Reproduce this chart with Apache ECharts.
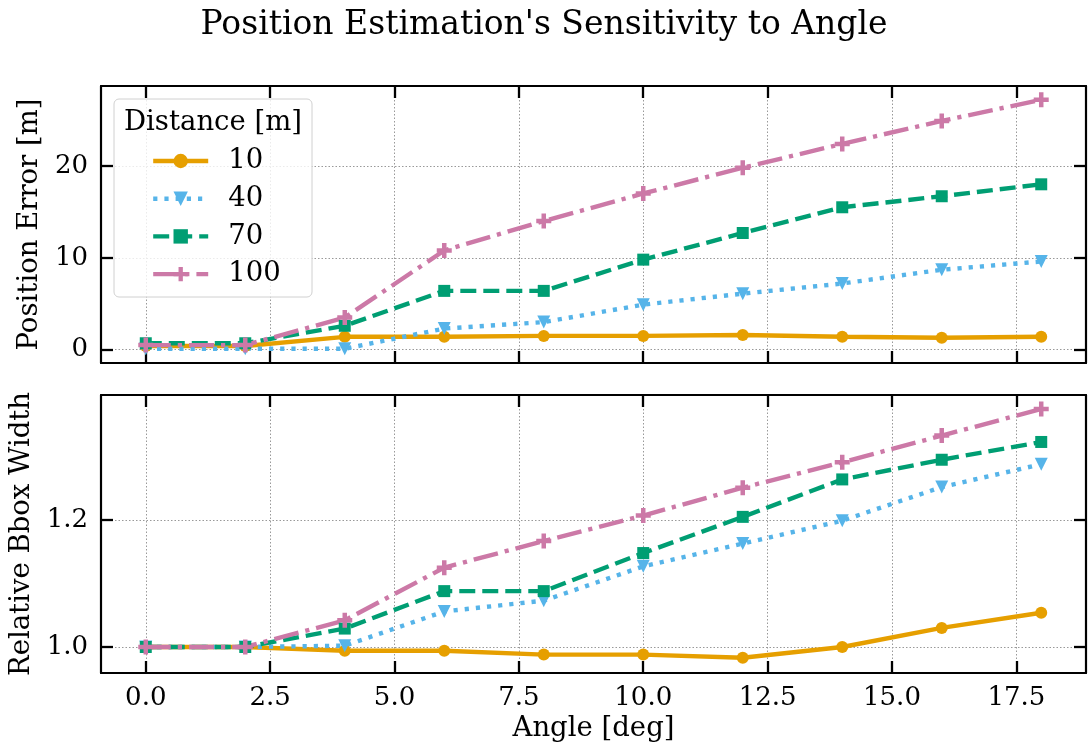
<!DOCTYPE html>
<html>
<head>
<meta charset="utf-8">
<script src="https://cdn.jsdelivr.net/npm/echarts@6/dist/echarts.min.js"></script>
<style>
  html, body { margin: 0; padding: 0; background: #fff; }
  #chart { width: 1088px; height: 746px; }
</style>
</head>
<body>
<div id="chart"></div>
<script>
// angle [deg] on x
var angles = [0, 2, 4, 6, 8, 10, 12, 14, 16, 18];
var distances = ['10', '40', '70', '100'];

// position error [m]
var errD10 = [0.4, 0.4, 1.4, 1.4, 1.5, 1.5, 1.6, 1.4, 1.3, 1.4];
var errD40 = [0.1, 0.1, 0.1, 2.3, 3.0, 4.9, 6.1, 7.2, 8.7, 9.6];
var errD70 = [0.7, 0.7, 2.6, 6.4, 6.4, 9.8, 12.7, 15.5, 16.7, 18.0];
var errD100 = [0.5, 0.5, 3.5, 10.8, 14.0, 17.0, 19.8, 22.4, 24.9, 27.2];

// relative bbox width
var relD10 = [1.0, 1.0, 0.994, 0.994, 0.988, 0.988, 0.983, 1.0, 1.030, 1.054];
var relD40 = [1.0, 1.0, 1.002, 1.056, 1.073, 1.127, 1.163, 1.199, 1.252, 1.288];
var relD70 = [1.0, 1.0, 1.029, 1.088, 1.088, 1.148, 1.205, 1.264, 1.295, 1.323];
var relD100 = [1.0, 1.0, 1.042, 1.125, 1.167, 1.207, 1.251, 1.291, 1.333, 1.375];

var xTicks = [0, 2.5, 5, 7.5, 10, 12.5, 15, 17.5];
var errTicks = [0, 10, 20];
var relTicks = [1.0, 1.2];

var font = 'DejaVu Serif';
var colors = ['#E69F00', '#56B4E9', '#009E73', '#CC79A7'];
var dashes = ['solid', [4.2, 7], [16, 7], [25, 7, 4.2, 7]];
var symbols = [
  'circle',
  'path://M0,0L10,0L5,8.7Z',
  'rect',
  'path://M3.5,0h3v3.5h3.5v3h-3.5v3.5h-3v-3.5h-3.5v-3h3.5z'
];
var symbolSizes = [12, 13, 12, 15];

function pairs(ys) {
  return angles.map(function (a, i) { return [a, ys[i]]; });
}

var chartDom = document.getElementById('chart');
var myChart = echarts.init(chartDom);

var tickStyle = { show: true, inside: true, length: 12, lineStyle: { color: '#000', width: 2.3 } };
var frameLine = { show: true, onZero: false, lineStyle: { color: '#000', width: 2.2 } };
var gridLine = { show: true, lineStyle: { color: '#999', width: 1, type: [1.5, 2] } };

function xAxisCfg(grid, pos, labels) {
  return {
    type: 'value', gridIndex: grid, position: pos, min: -0.9, max: 18.9,
    axisLine: frameLine,
    axisTick: Object.assign({ customValues: xTicks }, tickStyle),
    axisLabel: {
      show: labels, customValues: xTicks, margin: 12,
      fontFamily: font, fontSize: 26, color: '#000',
      formatter: function (v) { return v.toFixed(1); }
    },
    splitLine: pos === 'bottom' ? gridLine : { show: false },
    name: labels ? 'Angle [deg]' : '',
    nameLocation: 'middle', nameGap: 42,
    nameTextStyle: { fontFamily: font, fontSize: 27.5, color: '#000' }
  };
}

function yAxisCfg(grid, pos, min, max, ticks, digits, name, gap) {
  var main = pos === 'left';
  return {
    type: 'value', gridIndex: grid, position: pos, min: min, max: max,
    axisLine: frameLine,
    axisTick: Object.assign({ customValues: ticks }, tickStyle),
    axisLabel: {
      show: main, customValues: ticks, margin: 13,
      fontFamily: font, fontSize: 26, color: '#000',
      formatter: function (v) { return v.toFixed(digits); }
    },
    splitLine: main ? gridLine : { show: false },
    name: main ? name : '',
    nameLocation: 'middle', nameGap: gap,
    nameTextStyle: { fontFamily: font, fontSize: 27.5, color: '#000' }
  };
}

var errSets = [errD10, errD40, errD70, errD100];
var relSets = [relD10, relD40, relD70, relD100];
var series = [];
[errSets, relSets].forEach(function (sets, g) {
  sets.forEach(function (ys, i) {
    series.push({
      name: distances[i],
      type: 'line',
      xAxisIndex: g * 2,
      yAxisIndex: g * 2,
      data: pairs(ys),
      color: colors[i],
      symbol: symbols[i],
      symbolSize: symbolSizes[i],
      showSymbol: true,
      lineStyle: { width: 4.4, type: dashes[i], color: colors[i] },
      itemStyle: { color: colors[i] },
      z: 3,
      animation: false
    });
  });
});

var option = {
  animation: false,
  title: {
    text: "Position Estimation's Sensitivity to Angle",
    left: 'center', top: 4,
    textStyle: { fontFamily: font, fontSize: 33, fontWeight: 'normal', color: '#000' }
  },
  grid: [
    { left: 101, top: 86, width: 985, height: 277, outerBoundsMode: 'none', containLabel: false },
    { left: 101, top: 395, width: 985, height: 278, outerBoundsMode: 'none', containLabel: false }
  ],
  xAxis: [
    xAxisCfg(0, 'bottom', false),
    xAxisCfg(0, 'top', false),
    xAxisCfg(1, 'bottom', true),
    xAxisCfg(1, 'top', false)
  ],
  yAxis: [
    yAxisCfg(0, 'left', -1.45, 28.7, errTicks, 0, 'Position Error [m]', 54),
    yAxisCfg(0, 'right', -1.45, 28.7, errTicks, 0, '', 0),
    yAxisCfg(1, 'left', 0.959, 1.397, relTicks, 1, 'Relative Bbox Width', 64),
    yAxisCfg(1, 'right', 0.959, 1.397, relTicks, 1, '', 0)
  ],
  legend: {
    data: distances,
    orient: 'vertical',
    left: 151, top: 146,
    padding: 0,
    itemWidth: 55, itemHeight: 18, itemGap: 7.7,
    lineStyle: { width: 4.4 },
    textStyle: { fontFamily: font, fontSize: 27.5, color: '#000', lineHeight: 30, padding: [0, 0, 0, 15] },
    z: 10
  },
  graphic: [
    {
      type: 'rect', z: 8,
      shape: { x: 114, y: 99, width: 198, height: 198, r: 5 },
      style: { fill: 'rgba(255,255,255,0.8)', stroke: '#d0d0d0', lineWidth: 1 }
    },
    {
      type: 'text', z: 9, left: 124, top: 109,
      style: { text: 'Distance [m]', fontFamily: font, fontSize: 27.5, fill: '#000' }
    }
  ],
  series: series
};

option && myChart.setOption(option);
</script>
</body>
</html>
